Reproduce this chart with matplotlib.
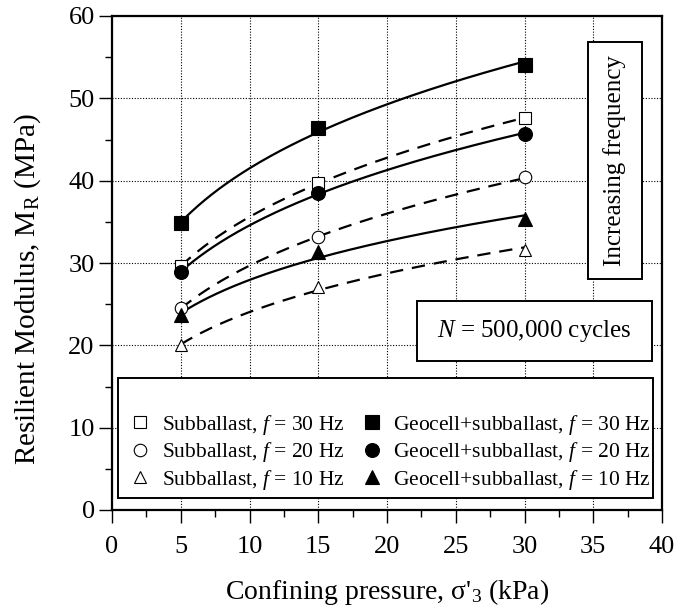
import numpy as np
import matplotlib
matplotlib.use("Agg")
import matplotlib.pyplot as plt
from matplotlib.lines import Line2D
from matplotlib.patches import Rectangle
from matplotlib.ticker import MultipleLocator

# -----------------------------------------------------------
# data
# -----------------------------------------------------------
pressure = [5, 15, 30]  # confining pressure (kPa)

sub_30 = [29.6, 39.7, 47.6]
sub_20 = [24.5, 33.1, 40.4]
sub_10 = [20.0, 27.1, 31.6]
geo_30 = [34.8, 46.4, 54.1]
geo_20 = [28.9, 38.5, 45.7]
geo_10 = [23.7, 31.3, 35.3]

labels_sub = ['Subballast, $f$ = 30 Hz', 'Subballast, $f$ = 20 Hz',
              'Subballast, $f$ = 10 Hz']
labels_geo = ['Geocell+subballast, $f$ = 30 Hz',
              'Geocell+subballast, $f$ = 20 Hz',
              'Geocell+subballast, $f$ = 10 Hz']

# -----------------------------------------------------------
# style
# -----------------------------------------------------------
plt.rcParams['font.family'] = ['Liberation Serif', 'DejaVu Serif']
plt.rcParams['mathtext.fontset'] = 'custom'
plt.rcParams['mathtext.rm'] = 'Liberation Serif'
plt.rcParams['mathtext.it'] = 'Liberation Serif:italic'

fig = plt.figure(figsize=(6.76, 6.11), dpi=100)
ax = fig.add_axes([112/676, 1-510/611, 550/676, 494/611])


def power_fit(x, y):
    # fit y = a * x^b in log-log space
    b, ln_a = np.polyfit(np.log(x), np.log(y), 1)
    xs = np.linspace(min(x), max(x), 200)
    return xs, np.exp(ln_a) * xs ** b


series = [
    (sub_30, 's', 'white', 8.5, '--'),
    (sub_20, 'o', 'white', 9, '--'),
    (sub_10, '^', 'white', 9, '--'),
    (geo_30, 's', 'black', 10, '-'),
    (geo_20, 'o', 'black', 10, '-'),
    (geo_10, '^', 'black', 9.5, '-'),
]

for y, mk, fc, ms, ls in series:
    xs, ys = power_fit(pressure, y)
    if ls == '--':
        ax.plot(xs, ys, color='k', lw=1.6, ls='--', dashes=(6, 4), zorder=4)
    else:
        ax.plot(xs, ys, color='k', lw=1.6, zorder=4)
    ax.plot(pressure, y, ls='none', marker=mk, ms=ms, mfc=fc, mec='k',
            mew=0.8, zorder=5)

# axes
ax.set_xlim(0, 40)
ax.set_ylim(0, 60)
ax.xaxis.set_major_locator(MultipleLocator(5))
ax.xaxis.set_minor_locator(MultipleLocator(2.5))
ax.yaxis.set_major_locator(MultipleLocator(10))
ax.yaxis.set_minor_locator(MultipleLocator(5))
ax.tick_params(which='major', direction='out', length=9.5, width=1.0,
               labelsize=19)
ax.tick_params(axis='x', which='major', pad=9)
ax.tick_params(axis='y', which='major', pad=3)
ax.tick_params(which='minor', direction='out', length=5, width=1.0)
for sp in ax.spines.values():
    sp.set_linewidth(1.6)
ax.grid(True, which='major', ls=(0, (1, 1.5)), color='k', lw=0.8, zorder=0)

ax.set_xlabel("Confining pressure, σ'$_3$ (kPa)", fontsize=20, labelpad=14)
ax.set_ylabel('Resilient Modulus, M$_\\mathrm{R}$ (MPa)', fontsize=21)
ax.yaxis.set_label_coords(-0.125, 0.447)

# legend frame (with blank top strip as in the original)
ax.add_patch(Rectangle((0.011, 0.024), 0.973, 0.243, transform=ax.transAxes,
                       fc='white', ec='k', lw=1.4, zorder=3))
handles = []
for y, mk, fc, ms, ls in series:
    handles.append(Line2D([], [], ls='none', marker=mk, ms=ms, mfc=fc,
                          mec='k', mew=0.8))
ax.legend(handles, labels_sub + labels_geo, ncol=2, frameon=False,
          loc='lower left', bbox_to_anchor=(0.036, 0.037), borderaxespad=0,
          fontsize=15.5, handlelength=0.8, handletextpad=0.58,
          columnspacing=0.9, labelspacing=0.16, borderpad=0).set_zorder(6)

# annotation boxes
ax.add_patch(Rectangle((0.5545, 0.3016), 0.4275, 0.1214, transform=ax.transAxes,
                       fc='white', ec='k', lw=1.4, zorder=3))
ax.text(0.768, 0.362, '$N$ = 500,000 cycles', transform=ax.transAxes,
        ha='center', va='center', fontsize=18, zorder=6)

ax.add_patch(Rectangle((0.865, 0.468), 0.099, 0.479, transform=ax.transAxes,
                       fc='white', ec='k', lw=1.4, zorder=3))
ax.text(0.9145, 0.7075, 'Increasing frequency', transform=ax.transAxes,
        ha='center', va='center', rotation=90, fontsize=18, zorder=6)

fig.savefig('out.png', dpi=100)
